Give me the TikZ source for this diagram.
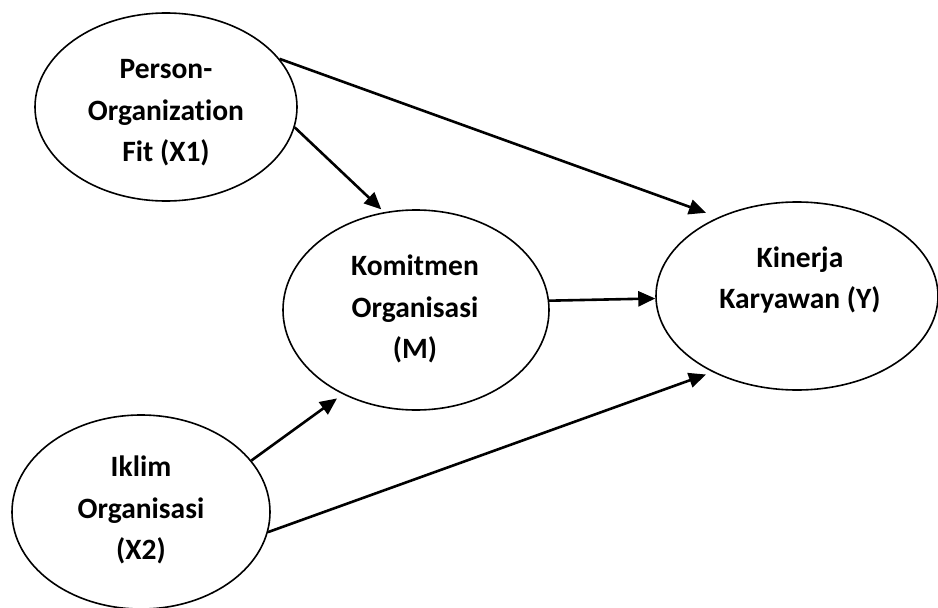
\documentclass[tikz,border=0pt]{standalone}
\usepackage{fontspec}
\setmainfont[Ligatures=NoCommon]{Carlito}
\usetikzlibrary{arrows.meta,shapes.geometric}
\begin{document}
\begin{tikzpicture}[x=1pt,y=-1pt,
  var/.style={draw,ellipse,line width=1.6pt,inner sep=0pt},
  lbl/.style={align=center,font=\bfseries\fontsize{29.5}{41.5}\selectfont,inner sep=0pt},
  arr/.style={line width=2.6pt,-{Triangle[length=17pt,width=15pt]}}]
\useasboundingbox (0,0) rectangle (938,608);
\node[var,minimum width=262pt,minimum height=188pt] (X1) at (166,107) {};
\node[var,minimum width=266pt,minimum height=200pt] (M) at (416,310) {};
\node[var,minimum width=282pt,minimum height=188pt] (Y) at (797,296) {};
\node[var,minimum width=258pt,minimum height=194pt] (X2) at (141,512) {};
\node[lbl] (tX1) at (166,113) {Person-\\Organization\\Fit (X1)};
\node[lbl] (tM) at (415,309) {Komitmen\\Organisasi\\(M)};
\node[lbl] (tY) at (800,280) {Kinerja\\Karyawan (Y)};
\node[lbl] (tX2) at (141,510) {Iklim\\Organisasi\\(X2)};
\draw[arr,shorten >=13pt] (X1.23) -- (Y.135.7);
\draw[arr,shorten >=4pt] (X1.-9) -- (M.108);
\draw[arr] (M.4) -- (Y.181.5);
\draw[arr,shorten >=7pt] (X2.25) -- (M.229.8);
\draw[arr,shorten >=7pt] (X2.-9) -- (Y.222.3);
\end{tikzpicture}
\end{document}
